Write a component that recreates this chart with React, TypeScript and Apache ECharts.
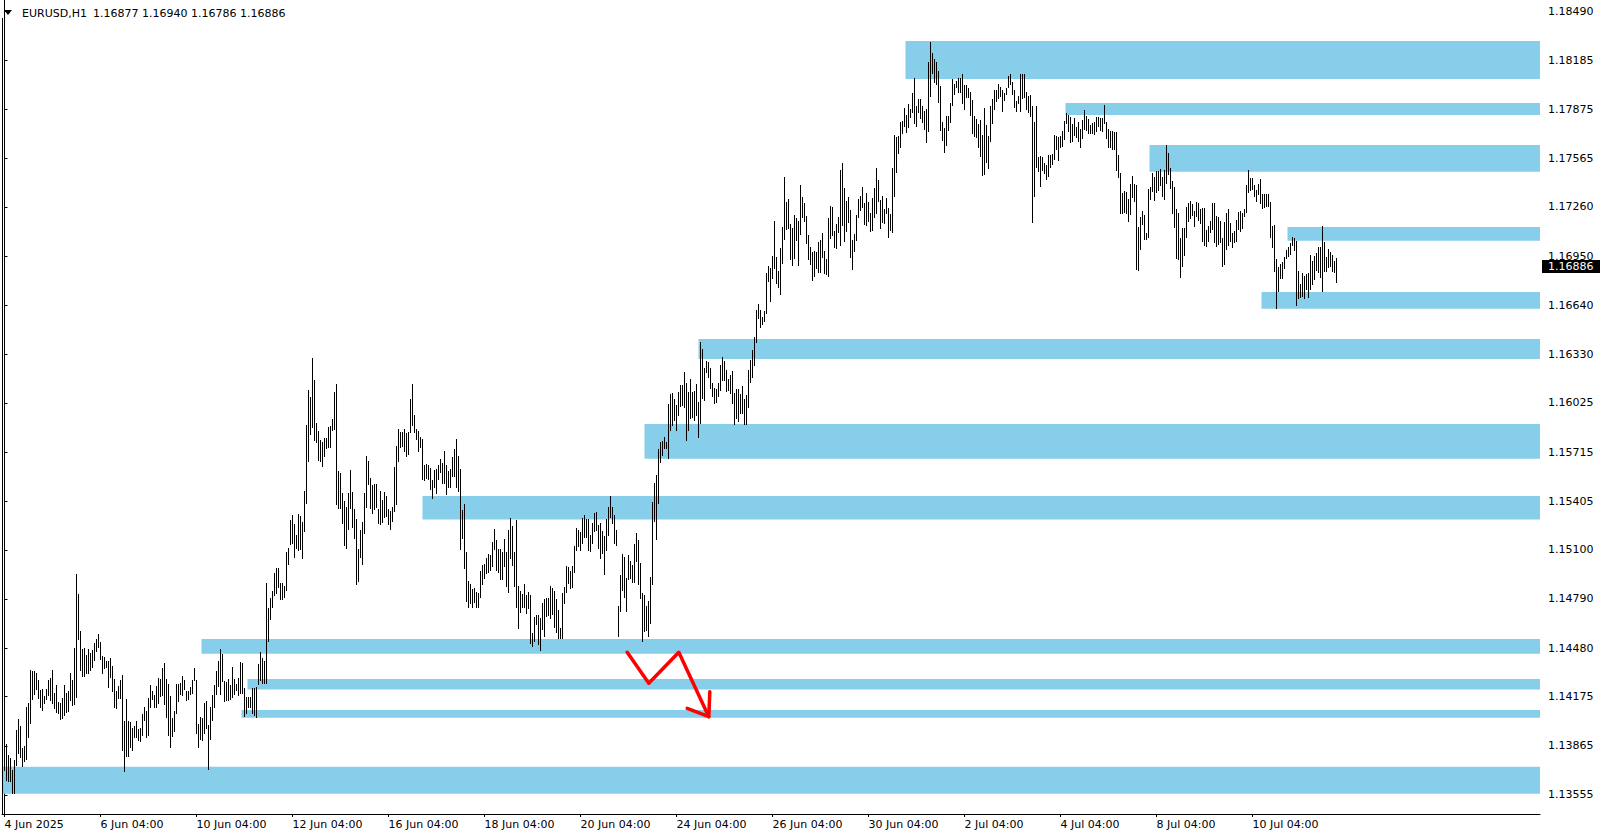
import React, { useEffect, useRef } from "react";
import * as echarts from "echarts";

// ---- Header (symbol, timeframe, last bar OHLC) ----
const symbolLabel = "EURUSD,H1";
const lastOHLC = [1.16877, 1.1694, 1.16786, 1.16886];
const lastPrice = 1.16886;

// ---- Time axis: H1 bar index of each label, and its text ----
const timeTickIdx = [0, 48, 96, 144, 192, 240, 288, 336, 384, 432, 480, 528, 576, 624];
const timeLabels = [
  "4 Jun 2025", "6 Jun 04:00", "10 Jun 04:00", "12 Jun 04:00", "16 Jun 04:00",
  "18 Jun 04:00", "20 Jun 04:00", "24 Jun 04:00", "26 Jun 04:00", "30 Jun 04:00",
  "2 Jul 04:00", "4 Jul 04:00", "8 Jul 04:00", "10 Jul 04:00",
];

// ---- Price axis ticks ----
const priceTicks = [
  1.1849, 1.18185, 1.17875, 1.17565, 1.1726, 1.1695, 1.1664, 1.1633, 1.16025,
  1.15715, 1.15405, 1.151, 1.1479, 1.1448, 1.14175, 1.13865, 1.13555,
];

// ---- H1 bar highs (bar 0 = 4 Jun 04:00) ----
const highs = [
  1.13923,1.13877,1.13808,1.13787,1.13713,1.13776,1.13965,1.14034,1.13990,1.13850,
  1.13864,1.14112,1.14137,1.14343,1.14337,1.14333,1.14326,1.14280,1.14217,1.14223,
  1.14179,1.14223,1.14280,1.14291,1.14343,1.14196,1.14249,1.14141,1.14137,1.14164,
  1.14246,1.14196,1.14211,1.14326,1.14280,1.14484,1.14948,1.14822,1.14591,1.14477,
  1.14480,1.14438,1.14473,1.14448,1.14469,1.14511,1.14540,1.14570,1.14519,1.14431,
  1.14423,1.14402,1.14400,1.14417,1.14368,1.14286,1.14211,1.14242,1.14280,1.14312,
  1.14022,1.14160,1.14022,1.14013,1.13976,1.13990,1.14018,1.13969,1.13976,1.14068,
  1.14112,1.14085,1.14167,1.14249,1.14207,1.14186,1.14244,1.14295,1.14286,1.14356,
  1.14387,1.14284,1.14255,1.14179,1.14039,1.14085,1.14255,1.14255,1.14259,1.14305,
  1.14280,1.14207,1.14211,1.14238,1.14280,1.14358,1.14280,1.14003,1.14049,1.14039,
  1.14137,1.14148,1.13994,1.14112,1.14186,1.14249,1.14337,1.14402,1.14475,1.14442,
  1.14270,1.14265,1.14286,1.14249,1.14364,1.14288,1.14255,1.14293,1.14393,1.14385,
  1.14228,1.14175,1.14175,1.14175,1.14230,1.14228,1.14238,1.14381,1.14454,1.14421,
  1.14400,1.14893,1.14736,1.14799,1.14837,1.14956,1.14988,1.14988,1.14893,1.14889,
  1.14872,1.15084,1.15110,1.15290,1.15320,1.15260,1.15193,1.15326,1.15313,1.15277,
  1.15471,1.15887,1.16107,1.16061,1.16306,1.16170,1.15897,1.15849,1.15792,1.15779,
  1.15803,1.15803,1.15872,1.15880,1.15924,1.16097,1.16145,1.15597,1.15582,1.15456,
  1.15408,1.15368,1.15456,1.15603,1.15462,1.15357,1.15294,1.15105,1.15225,1.15275,
  1.15456,1.15691,1.15660,1.15555,1.15509,1.15515,1.15515,1.15357,1.15471,1.15414,
  1.15462,1.15439,1.15355,1.15345,1.15368,1.15622,1.15754,1.15861,1.15845,1.15845,
  1.15861,1.15838,1.15845,1.16050,1.16145,1.15949,1.15861,1.15849,1.15813,1.15798,
  1.15634,1.15641,1.15634,1.15618,1.15540,1.15603,1.15609,1.15632,1.15672,1.15649,
  1.15723,1.15634,1.15597,1.15609,1.15687,1.15735,1.15798,1.15691,1.15609,1.15351,
  1.15389,1.15089,1.14906,1.14883,1.14853,1.14862,1.14832,1.14826,1.14967,1.15005,
  1.15009,1.15047,1.15074,1.15068,1.15152,1.15231,1.15162,1.15105,1.15103,1.15086,
  1.15168,1.15088,1.15225,1.15298,1.15250,1.15088,1.15288,1.14874,1.14843,1.14822,
  1.14885,1.14815,1.14836,1.14815,1.14578,1.14679,1.14690,1.14690,1.14673,1.14763,
  1.14790,1.14799,1.14795,1.14872,1.14862,1.14841,1.14790,1.14721,1.14610,1.14826,
  1.14868,1.14998,1.14990,1.14969,1.14998,1.15124,1.15235,1.15225,1.15214,1.15298,
  1.15319,1.15292,1.15292,1.15194,1.15267,1.15334,1.15340,1.15257,1.15271,1.15219,
  1.15187,1.15292,1.15372,1.15441,1.15368,1.15319,1.15225,1.14746,1.14942,1.15074,
  1.15053,1.14920,1.15068,1.15030,1.15005,1.15137,1.15204,1.15162,1.15015,1.14826,
  1.14815,1.14748,1.14778,1.14931,1.15404,1.15519,1.15572,1.15733,1.15779,1.15786,
  1.15813,1.15782,1.16019,1.16082,1.16090,1.16050,1.16013,1.16097,1.16139,1.16139,
  1.16218,1.16149,1.16097,1.16174,1.16097,1.16103,1.16145,1.16034,1.16412,1.16363,
  1.16244,1.16290,1.16285,1.16248,1.16149,1.16118,1.16113,1.16149,1.16265,1.16313,
  1.16290,1.16233,1.16176,1.16202,1.16227,1.16086,1.16111,1.16111,1.16082,1.16132,
  1.16050,1.16076,1.16233,1.16296,1.16359,1.16443,1.16611,1.16649,1.16611,1.16569,
  1.16605,1.16842,1.16888,1.16878,1.16951,1.17172,1.16947,1.16857,1.17000,1.17136,
  1.17451,1.17293,1.17310,1.17153,1.17130,1.17210,1.17189,1.17174,1.17398,1.17325,
  1.17287,1.17203,1.17083,1.17010,1.16978,1.16983,1.16978,1.17037,1.17052,1.17098,
  1.16985,1.16930,1.17193,1.17266,1.17262,1.17109,1.17153,1.17199,1.17493,1.17539,
  1.17382,1.17298,1.17321,1.17241,1.17052,1.17090,1.17210,1.17310,1.17329,1.17384,
  1.17287,1.17350,1.17289,1.17224,1.17319,1.17382,1.17508,1.17430,1.17304,1.17329,
  1.17247,1.17319,1.17256,1.17214,1.17508,1.17714,1.17703,1.17707,1.17798,1.17802,
  1.17882,1.17840,1.17909,1.17877,1.17980,1.18075,1.17896,1.17940,1.17940,1.17898,
  1.17867,1.17877,1.18171,1.18302,1.18232,1.18192,1.18171,1.18117,1.18022,1.17797,
  1.17760,1.17833,1.17833,1.17917,1.18066,1.18033,1.18056,1.18071,1.18075,1.18098,
  1.18028,1.18028,1.18012,1.17986,1.17934,1.17833,1.17814,1.17781,1.17808,1.17714,
  1.17886,1.17776,1.17707,1.17896,1.17938,1.17997,1.17997,1.18035,1.18018,1.17997,
  1.17976,1.18008,1.18087,1.18096,1.18050,1.17997,1.17930,1.17959,1.18098,1.18096,
  1.18096,1.17982,1.17961,1.17966,1.17896,1.17797,1.17896,1.17577,1.17581,1.17577,
  1.17535,1.17525,1.17588,1.17588,1.17592,1.17714,1.17707,1.17703,1.17707,1.17741,
  1.17802,1.17854,1.17840,1.17825,1.17783,1.17819,1.17762,1.17797,1.17749,1.17808,
  1.17871,1.17833,1.17812,1.17777,1.17791,1.17797,1.17825,1.17825,1.17819,1.17819,
  1.17903,1.17797,1.17749,1.17741,1.17741,1.17735,1.17735,1.17588,1.17476,1.17350,
  1.17363,1.17357,1.17308,1.17405,1.17455,1.17405,1.17399,1.17132,1.17195,1.17235,
  1.17210,1.17098,1.17373,1.17388,1.17476,1.17447,1.17487,1.17487,1.17499,1.17451,
  1.17493,1.17650,1.17602,1.17508,1.17424,1.17388,1.17247,1.17224,1.17067,1.17130,
  1.17130,1.17262,1.17287,1.17300,1.17279,1.17235,1.17294,1.17287,1.17247,1.17256,
  1.17252,1.17115,1.17140,1.17172,1.17287,1.17287,1.17205,1.17199,1.17172,1.17067,
  1.17168,1.17224,1.17247,1.17157,1.17094,1.17111,1.17178,1.17231,1.17237,1.17220,
  1.17247,1.17399,1.17493,1.17445,1.17441,1.17399,1.17367,1.17405,1.17434,1.17342,
  1.17342,1.17342,1.17342,1.17294,1.17140,1.17147,1.16932,1.16884,1.16901,1.16916,
  1.16947,1.16989,1.17010,1.17031,1.17073,1.17063,1.17046,1.16857,1.16775,1.16842,
  1.16825,1.16836,1.16842,1.16958,1.16922,1.16953,1.16972,1.17010,1.17006,1.17140,
  1.17042,1.16943,1.16995,1.16974,1.16958,1.16922,1.16940,
];

// ---- H1 bar lows ----
const lows = [
  1.13713,1.13650,1.13646,1.13640,1.13566,1.13566,1.13745,1.13822,1.13797,1.13738,
  1.13766,1.13782,1.13923,1.14007,1.14160,1.14192,1.14221,1.14165,1.14112,1.14091,
  1.14133,1.14158,1.14186,1.14154,1.14133,1.14102,1.14076,1.14070,1.14036,1.14043,
  1.14060,1.14076,1.14085,1.14154,1.14122,1.14127,1.14175,1.14536,1.14343,1.14307,
  1.14307,1.14322,1.14326,1.14343,1.14364,1.14406,1.14459,1.14490,1.14410,1.14326,
  1.14353,1.14364,1.14238,1.14301,1.14207,1.14112,1.14102,1.14169,1.14165,1.13841,
  1.13709,1.13803,1.13803,1.13856,1.13839,1.13923,1.13923,1.13902,1.13896,1.13934,
  1.14030,1.13923,1.13934,1.14112,1.14158,1.14108,1.14112,1.14133,1.14181,1.14186,
  1.14127,1.14049,1.13934,1.13860,1.13927,1.13955,1.14070,1.14144,1.14190,1.14186,
  1.14223,1.14154,1.14160,1.14192,1.14196,1.14280,1.13944,1.13856,1.13906,1.13902,
  1.13944,1.13976,1.13721,1.13906,1.14028,1.14108,1.14192,1.14244,1.14192,1.14270,
  1.14150,1.14154,1.14154,1.14158,1.14175,1.14188,1.14217,1.14186,1.14196,1.14196,
  1.14055,1.14070,1.14112,1.14112,1.14070,1.14060,1.14049,1.14255,1.14280,1.14259,
  1.14259,1.14259,1.14522,1.14666,1.14742,1.14816,1.14830,1.14868,1.14788,1.14788,
  1.14805,1.14847,1.15011,1.15137,1.15141,1.15057,1.15110,1.15099,1.15105,1.15051,
  1.15219,1.15397,1.15660,1.15828,1.15876,1.15792,1.15782,1.15666,1.15662,1.15630,
  1.15693,1.15744,1.15750,1.15750,1.15855,1.15859,1.15389,1.15366,1.15366,1.15271,
  1.15131,1.15114,1.15231,1.15366,1.15246,1.15177,1.14883,1.14900,1.15057,1.15009,
  1.15204,1.15372,1.15515,1.15366,1.15330,1.15357,1.15368,1.15267,1.15261,1.15277,
  1.15305,1.15315,1.15261,1.15229,1.15282,1.15347,1.15389,1.15662,1.15750,1.15754,
  1.15723,1.15693,1.15702,1.15840,1.15887,1.15845,1.15796,1.15723,1.15746,1.15544,
  1.15540,1.15555,1.15544,1.15483,1.15425,1.15494,1.15456,1.15544,1.15592,1.15523,
  1.15523,1.15450,1.15498,1.15498,1.15567,1.15565,1.15498,1.15473,1.15103,1.15177,
  1.14984,1.14774,1.14742,1.14763,1.14742,1.14769,1.14738,1.14742,1.14801,1.14885,
  1.14925,1.14952,1.14959,1.14973,1.14998,1.15103,1.14973,1.14959,1.14914,1.14914,
  1.15000,1.14872,1.14836,1.15051,1.15004,1.14874,1.14738,1.14605,1.14710,1.14742,
  1.14738,1.14704,1.14731,1.14515,1.14496,1.14528,1.14631,1.14505,1.14469,1.14599,
  1.14559,1.14685,1.14690,1.14669,1.14696,1.14612,1.14580,1.14543,1.14543,1.14547,
  1.14767,1.14836,1.14893,1.14862,1.14868,1.14962,1.15099,1.15126,1.15099,1.15145,
  1.15183,1.15183,1.15099,1.15095,1.15145,1.15219,1.15225,1.15114,1.15051,1.15078,
  1.14946,1.15099,1.15194,1.15309,1.15267,1.15145,1.15131,1.14557,1.14717,1.14847,
  1.14805,1.14717,1.14916,1.14920,1.14899,1.14895,1.15032,1.14885,1.14794,1.14528,
  1.14585,1.14595,1.14559,1.14641,1.14885,1.15284,1.15168,1.15397,1.15656,1.15698,
  1.15740,1.15744,1.15681,1.15855,1.15887,1.15918,1.15855,1.15950,1.16006,1.16013,
  1.15998,1.15792,1.15855,1.15929,1.15939,1.15918,1.15950,1.15813,1.15901,1.16055,
  1.16044,1.16218,1.16191,1.16118,1.16071,1.16027,1.16034,1.16071,1.16107,1.16170,
  1.16170,1.16103,1.16107,1.16090,1.16027,1.15893,1.15928,1.15914,1.15964,1.15964,
  1.15893,1.15893,1.16002,1.16160,1.16191,1.16265,1.16412,1.16559,1.16506,1.16523,
  1.16544,1.16590,1.16796,1.16670,1.16815,1.16878,1.16783,1.16754,1.16712,1.16909,
  1.17058,1.17119,1.17130,1.16932,1.16895,1.16941,1.17052,1.16895,1.17090,1.17199,
  1.17174,1.17035,1.16932,1.16901,1.16800,1.16825,1.16873,1.16853,1.16853,1.16947,
  1.16846,1.16838,1.16825,1.17067,1.17084,1.17010,1.17004,1.17105,1.17021,1.17147,
  1.17048,1.17111,1.17168,1.16947,1.16869,1.16985,1.17052,1.17195,1.17241,1.17262,
  1.17153,1.17147,1.17174,1.17111,1.17115,1.17199,1.17224,1.17300,1.17130,1.17168,
  1.17161,1.17224,1.17073,1.17115,1.17100,1.17331,1.17483,1.17602,1.17640,1.17724,
  1.17772,1.17730,1.17766,1.17829,1.17861,1.17791,1.17772,1.17861,1.17823,1.17797,
  1.17749,1.17672,1.17741,1.17959,1.18106,1.18045,1.18035,1.17924,1.17745,1.17682,
  1.17609,1.17650,1.17745,1.17797,1.17903,1.17972,1.18018,1.17987,1.17987,1.17917,
  1.17877,1.17955,1.17955,1.17840,1.17728,1.17707,1.17699,1.17640,1.17581,1.17462,
  1.17468,1.17546,1.17504,1.17678,1.17791,1.17877,1.17928,1.17945,1.17959,1.17867,
  1.17934,1.17970,1.18018,1.18035,1.17972,1.17888,1.17865,1.17913,1.17865,1.17945,
  1.17951,1.17877,1.17861,1.17833,1.17167,1.17331,1.17510,1.17487,1.17394,1.17493,
  1.17476,1.17436,1.17457,1.17514,1.17531,1.17560,1.17623,1.17556,1.17636,1.17644,
  1.17688,1.17791,1.17739,1.17672,1.17678,1.17714,1.17703,1.17678,1.17636,1.17693,
  1.17749,1.17745,1.17728,1.17724,1.17728,1.17718,1.17741,1.17770,1.17745,1.17741,
  1.17787,1.17697,1.17640,1.17636,1.17623,1.17625,1.17493,1.17447,1.17220,1.17220,
  1.17231,1.17220,1.17172,1.17216,1.17325,1.17300,1.16867,1.16863,1.16995,1.17153,
  1.17058,1.17058,1.17069,1.17310,1.17363,1.17304,1.17357,1.17367,1.17399,1.17331,
  1.17310,1.17409,1.17468,1.17382,1.17224,1.17136,1.16936,1.16932,1.16821,1.16890,
  1.16958,1.17073,1.17174,1.17189,1.17210,1.17140,1.17203,1.17178,1.17161,1.17046,
  1.17021,1.17014,1.17046,1.17105,1.17119,1.17042,1.17016,1.17025,1.17042,1.16888,
  1.16901,1.16995,1.17021,1.17046,1.17006,1.17042,1.17046,1.17121,1.17111,1.17130,
  1.17203,1.17226,1.17352,1.17367,1.17371,1.17331,1.17300,1.17342,1.17283,1.17256,
  1.17262,1.17266,1.17266,1.17073,1.17010,1.16857,1.16622,1.16731,1.16811,1.16815,
  1.16874,1.16936,1.16951,1.16964,1.17021,1.16989,1.16643,1.16685,1.16695,1.16699,
  1.16689,1.16743,1.16695,1.16743,1.16775,1.16806,1.16863,1.16853,1.16821,1.16731,
  1.16859,1.16857,1.16884,1.16888,1.16857,1.16853,1.16786,
];

// ---- Supply / demand zones: [start bar, top price, bottom price] ----
const zoneStart = [450.5, 530.5, 572.5, 641.5, 628.5, 347, 320, 209, 98.5, 121.5, 118.5, -1.25];
const zoneTop = [1.18305, 1.17915, 1.1765, 1.17134, 1.16724, 1.16428, 1.15893, 1.15439, 1.14538, 1.14286, 1.14091, 1.13732];
const zoneBottom = [1.18066, 1.17839, 1.17482, 1.17047, 1.16619, 1.16302, 1.15674, 1.1529, 1.14445, 1.14219, 1.14042, 1.13563];

// ---- Red arrow drawing: [bar, price] ----
const arrowPath = [[311.35, 1.14454], [322.15, 1.14259], [337.15, 1.14454], [352.15, 1.14048]];
const arrowHead = [[352.65, 1.14206], [352.15, 1.14048], [341.35, 1.14101]];

const FONT = "DejaVu Sans";

export default function App() {
  const ref = useRef<HTMLDivElement>(null);

  useEffect(() => {
    if (!ref.current) return;
    const chart = echarts.init(ref.current, undefined, { renderer: "svg" });

    const barData = highs.map((h, i) => [i, h, lows[i]]);
    const zoneData = zoneStart.map((s, i) => [s, zoneTop[i], zoneBottom[i]]);

    const option: any = {
      animation: false,
      backgroundColor: "#ffffff",
      grid: { left: 2, right: 64, top: 0, bottom: 24, outerBoundsMode: "none" },
      xAxis: {
        type: "value",
        min: -1.25,
        max: 767.75,
        splitLine: { show: false },
        axisLine: { show: true, lineStyle: { color: "#000", width: 1 } },
        axisTick: { show: true, customValues: timeTickIdx, length: 3, lineStyle: { color: "#000" } },
        axisLabel: {
          customValues: timeTickIdx,
          formatter: (v: number) => {
            const k = timeTickIdx.indexOf(Math.round(v));
            return k >= 0 ? timeLabels[k] : "";
          },
          align: "left",
          margin: 5,
          color: "#000",
          fontFamily: FONT,
          fontSize: 11,
        },
      },
      yAxis: {
        type: "value",
        position: "right",
        min: 1.13435,
        max: 1.18564,
        splitLine: { show: false },
        axisLine: { show: true, lineStyle: { color: "#000", width: 1 } },
        axisTick: { show: true, customValues: priceTicks, length: 3, lineStyle: { color: "#000" } },
        axisLabel: {
          customValues: priceTicks,
          formatter: (v: number) => v.toFixed(5),
          margin: 8,
          color: "#000",
          fontFamily: FONT,
          fontSize: 11,
        },
      },
      series: [
        {
          type: "custom",
          name: "zones",
          data: zoneData,
          encode: { x: 0, y: [1, 2] },
          z: 1,
          renderItem: (params: any, api: any) => {
            const cs = params.coordSys;
            const p1 = api.coord([api.value(0), api.value(1)]);
            const p2 = api.coord([api.value(0), api.value(2)]);
            const x0 = Math.max(cs.x, p1[0]);
            const right = cs.x + cs.width;
            return {
              type: "rect",
              shape: { x: x0, y: p1[1], width: right - x0, height: p2[1] - p1[1] },
              style: { fill: "#87CEEB" },
            };
          },
        },
        {
          type: "custom",
          name: "EURUSD",
          data: barData,
          encode: { x: 0, y: [1, 2] },
          z: 2,
          progressive: 0,
          renderItem: (params: any, api: any) => {
            const i = api.value(0);
            const h = api.coord([i, api.value(1)]);
            const l = api.coord([i, api.value(2)]);
            const x = Math.floor(h[0]) + 0.5;
            return {
              type: "line",
              shape: { x1: x, y1: Math.round(h[1]), x2: x, y2: Math.round(l[1]) + 1 },
              style: { stroke: "#000", lineWidth: 1 },
            };
          },
        },
        {
          type: "line",
          data: arrowPath,
          symbol: "none",
          z: 5,
          lineStyle: { color: "#ff0000", width: 3.5, cap: "round", join: "round" },
        },
        {
          type: "line",
          data: arrowHead,
          symbol: "none",
          z: 5,
          lineStyle: { color: "#ff0000", width: 3.5, cap: "round", join: "round" },
        },
        {
          type: "custom",
          name: "lastPrice",
          data: [[highs.length - 1, lastPrice]],
          encode: { x: 0, y: 1 },
          z: 10,
          clip: false,
          renderItem: (params: any, api: any) => {
            const cs = params.coordSys;
            const p = api.coord([api.value(0), api.value(1)]);
            const right = cs.x + cs.width;
            return {
              type: "group",
              children: [
                {
                  type: "rect",
                  shape: { x: right + 2, y: Math.round(p[1]) - 6, width: 58, height: 13 },
                  style: { fill: "#000" },
                },
                {
                  type: "text",
                  x: right + 8,
                  y: Math.round(p[1]) + 0.5,
                  style: {
                    text: lastPrice.toFixed(5),
                    fill: "#fff",
                    font: `11px "${FONT}"`,
                    verticalAlign: "middle",
                    align: "left",
                  },
                },
              ],
            };
          },
        },
      ],
      graphic: [
        {
          type: "line",
          shape: { x1: 2.5, y1: 18, x2: 2.5, y2: 814 },
          style: { stroke: "#000", lineWidth: 1 },
          z: 20,
        },
        {
          type: "polygon",
          shape: { points: [[4, 10], [12, 10], [8, 15]] },
          style: { fill: "#000" },
          z: 20,
        },
        {
          type: "text",
          x: 22,
          y: 13,
          style: { text: symbolLabel, fill: "#000", font: `11px "${FONT}"`, verticalAlign: "middle" },
          z: 20,
        },
        {
          type: "text",
          x: 93,
          y: 13,
          style: {
            text: lastOHLC.map((v) => v.toFixed(5)).join(" "),
            fill: "#000",
            font: `11px "${FONT}"`,
            verticalAlign: "middle",
          },
          z: 20,
        },
      ],
    };

    chart.setOption(option);
    return () => chart.dispose();
  }, []);

  return (
    <div
      ref={ref}
      style={{ position: "fixed", left: 0, top: 0, width: 1604, height: 838, background: "#fff" }}
    />
  );
}
